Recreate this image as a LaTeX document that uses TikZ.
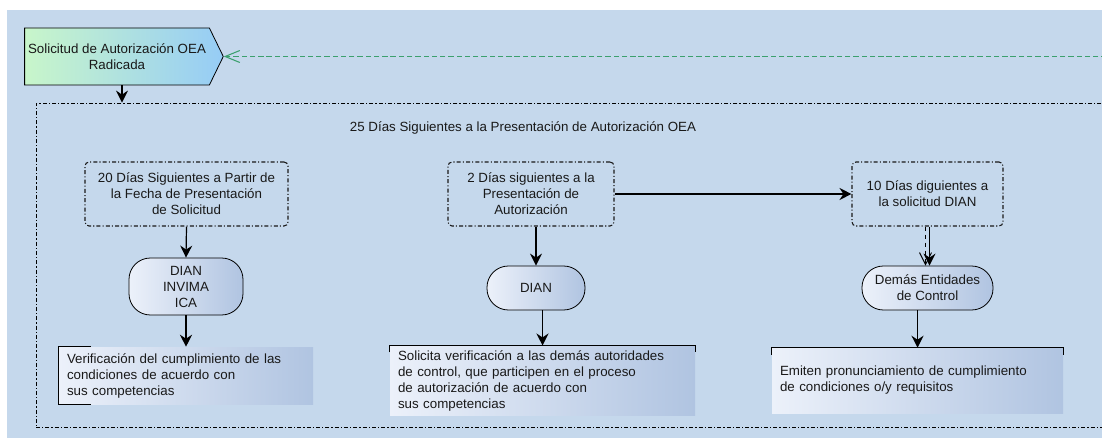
\documentclass[tikz,border=0pt]{standalone}
\usepackage{fontspec}
\setmainfont{Liberation Sans}
\usepackage{tikz}
\usepackage{xcolor}
\definecolor{fondo}{RGB}{197,216,236}
\definecolor{verdeclaro}{RGB}{200,246,202}
\definecolor{azulclaro}{RGB}{150,204,246}
\definecolor{docizq}{RGB}{236,241,250}
\definecolor{docder}{RGB}{176,196,225}
\definecolor{linverde}{RGB}{60,160,110}
\definecolor{texto}{RGB}{25,25,25}
\tikzset{every node/.style={font=\fontsize{10}{12}\selectfont,text=texto},
 puntoraya/.style={dash pattern=on 3pt off 1.6pt on 0.8pt off 1.6pt},
 inicio/.style={shape=signal,signal to=east,signal pointer angle=128,draw=black,
   left color=verdeclaro,right color=azulclaro,minimum width=149pt,minimum height=42.75pt,
   align=center,inner sep=1pt,line width=0.6pt},
 grupo/.style={draw=black,puntoraya,minimum width=820.5pt,minimum height=243pt,line width=0.6pt},
 plazo/.style={draw=black!90,puntoraya,rounded corners=3pt,minimum height=48pt,
   align=center,inner sep=1pt,line width=0.8pt},
 entidad/.style={draw=black,rounded corners=16pt,left color=docizq,right color=docder,
   minimum height=33pt,align=center,inner sep=1pt,line width=0.6pt},
 accion/.style={left color=docizq,right color=docder,align=left,inner xsep=6pt,
   text width=#1},
 flecha/.style={draw=black,line width=0.9pt,-{Stealth[length=9pt,width=9pt,inset=3pt]}},
 corchete/.style={draw=black,line width=0.7pt},
 }
\usetikzlibrary{arrows.meta}
\usetikzlibrary{shapes}

\begin{document}
\begin{tikzpicture}[x=0.75pt,y=-0.75pt]
    \clip (0,0) rectangle (1102,438);
    \fill[white] (0,0) rectangle (1102,438);
    \fill[fondo] (7,10) rectangle (1102,438);

    \node[inicio] (ini) at (117,56.5) {Solicitud de Autorización OEA\\Radicada};
    \coordinate (retorno) at (1115,56.5);
    \draw[linverde,line width=0.8pt,dash pattern=on 4pt off 2.2pt,
        -{Straight Barb[length=11pt,width=9pt]}] (retorno) -- (ini.east);

    \node[grupo] (grp) at (583,265) {};
    \node (grptit) at (523,128) {25 Días Siguientes a la Presentación de Autorización OEA};
    \draw[flecha] ([xshift=3.75pt]ini.south) -- ([xshift=3.75pt]ini.south |- grp.north);

    \node[plazo,minimum width=152.25pt] (p20) at (186.5,194)
        {20 Días Siguientes a Partir de\\la Fecha de Presentación\\de Solicitud};
    \node[plazo,minimum width=124.5pt] (p2) at (531,194)
        {2 Días siguientes a la\\Presentación de\\Autorización};
    \node[plazo,minimum width=113.25pt] (p10) at (927.5,194)
        {10 Días diguientes a\\la solicitud DIAN};

    \node[entidad,minimum width=85.5pt,minimum height=42.75pt] (ent1) at (186,286.5)
        {DIAN\\INVIMA\\ICA};
    \node[entidad,minimum width=73.5pt] (ent2) at (536,288) {DIAN};
    \node[entidad,minimum width=98.25pt] (ent3) at (927.5,288) {Demás Entidades\\de Control};

    \node[accion=178.5pt,minimum height=42.75pt] (acc1) at (186,375.5)
        {Verificación del cumplimiento de las\\condiciones de acuerdo con\\sus competencias};
    \node[accion=216.75pt,minimum height=48.75pt] (acc2) at (542.5,380.5)
        {Solicita verificación a las demás autoridades\\de control, que participen en el proceso\\de autorización de acuerdo con\\sus competencias};
    \node[accion=206.25pt,minimum height=48.75pt] (acc3) at (917.5,380.5)
        {Emiten pronunciamiento de cumplimiento\\de condiciones o/y requisitos};

    \draw[corchete] ([xshift=24pt]acc1.north west) -| (acc1.south west) -- ++(32,0);
    \draw[corchete] ([yshift=-5.25pt]acc2.north west) |- (acc2.north east) -- ++(0,7);
    \draw[corchete] ([yshift=-5.25pt]acc3.north west) |- (acc3.north east) -- ++(0,7);

    \draw[flecha] (p20.south) -- (ent1.north);
    \draw[flecha] (ent2.north |- p2.south) -- (ent2.north);
    \draw[flecha] (p2.east) -- (p10.west);
    \draw[black,line width=0.7pt,dashed,-{Straight Barb[length=9pt,width=9pt]}]
        ([xshift=-1.5pt]p10.south) -- ([xshift=-1.5pt]ent3.north);
    \draw[flecha] ([xshift=1.5pt]p10.south) -- ([xshift=1.5pt]ent3.north);
    \draw[flecha] (ent1.south) -- (acc1.north);
    \draw[flecha] (ent2.south -| acc2.north) -- (acc2.north);
    \draw[flecha] (ent3.south -| acc3.north) -- (acc3.north);
\end{tikzpicture}
\end{document}
